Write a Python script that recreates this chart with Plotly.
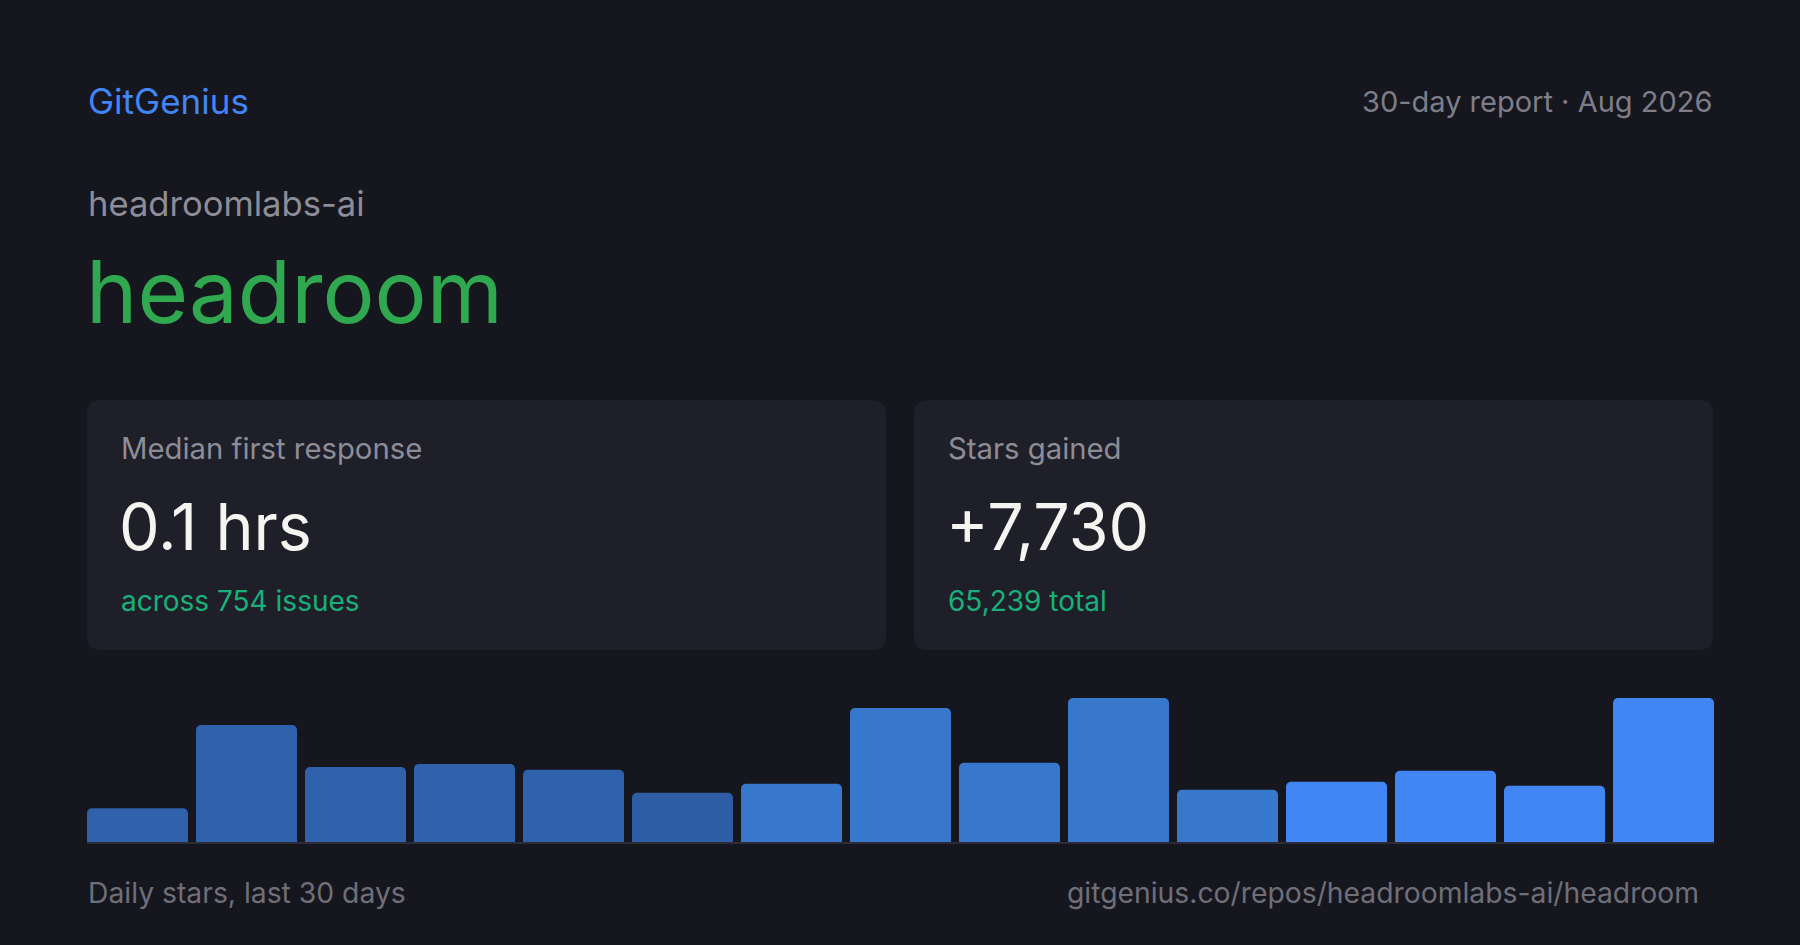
import plotly.graph_objects as go

# ---------------- data ----------------
bins = [f"D{i}" for i in range(1, 16)]
daily_stars = [213, 739, 473, 493, 456, 311, 367, 846, 500, 909, 330, 380, 449, 355, 909]
bar_colors = ["#2f62ab"] * 5 + ["#2e5ca5"] + ["#3778cc"] * 5 + ["#4285f4"] * 4

brand = "GitGenius"
report = "30-day report · Aug 2026"
owner = "headroomlabs-ai"
repo = "headroom"
card_labels = ["Median first response", "Stars gained"]
card_values = ["0.1 hrs", "+7,730"]
card_subs = ["across 754 issues", "65,239 total"]
footer_left = "Daily stars, last 30 days"
footer_right = "gitgenius.co/repos/headroomlabs-ai/headroom"

# ---------------- layout helpers ----------------
W, H = 1800, 945
BG = "#16161e"
CARD = "#1f1f29"
FONT = "Inter"


def px(x):
    return x / W


def py(y):
    return 1 - y / H


def rounded_rect(x0, y0, x1, y1, r):
    X = lambda v: px(v)
    Y = lambda v: py(v)
    return (
        f"M {X(x0 + r)} {Y(y0)} L {X(x1 - r)} {Y(y0)} "
        f"Q {X(x1)} {Y(y0)} {X(x1)} {Y(y0 + r)} "
        f"L {X(x1)} {Y(y1 - r)} Q {X(x1)} {Y(y1)} {X(x1 - r)} {Y(y1)} "
        f"L {X(x0 + r)} {Y(y1)} Q {X(x0)} {Y(y1)} {X(x0)} {Y(y1 - r)} "
        f"L {X(x0)} {Y(y0 + r)} Q {X(x0)} {Y(y0)} {X(x0 + r)} {Y(y0)} Z"
    )


fig = go.Figure()
fig.add_trace(
    go.Bar(
        x=bins,
        y=daily_stars,
        marker=dict(color=bar_colors, line=dict(width=0)),
        hoverinfo="skip",
    )
)

shapes = []
cards_x = [(87, 886), (914, 1713)]
for (x0, x1) in cards_x:
    shapes.append(
        dict(
            type="path",
            xref="paper",
            yref="paper",
            path=rounded_rect(x0, 400, x1, 650, 14),
            fillcolor=CARD,
            line=dict(width=0),
            layer="below",
        )
    )
# baseline under the bars
shapes.append(
    dict(
        type="line",
        xref="paper",
        yref="paper",
        x0=px(87),
        x1=px(1714),
        y0=py(843),
        y1=py(843),
        line=dict(color="#2c2c38", width=2),
    )
)

annotations = []


def text(x, y, s, size, color, anchor="left"):
    annotations.append(
        dict(
            x=px(x),
            y=py(y),
            xref="paper",
            yref="paper",
            text=s,
            showarrow=False,
            xanchor=anchor,
            yanchor="middle",
            font=dict(family=FONT, size=size, color=color),
        )
    )


text(86, 101, brand, 35, "#4285f4")
text(1714, 101, report, 29, "#7e7e89", "right")
text(86, 203, owner, 34.6, "#8d8d97")
text(84, 292, repo, 87, "#2fa84f")

for i, (x0, x1) in enumerate(cards_x):
    text(x0 + 32, 449, card_labels[i], 29.3, "#8d8d97")
    text(x0 + 30, 527, card_values[i], 64.5, "#f4f4f0")
    text(x0 + 32, 601, card_subs[i], 28, "#19b07a")

text(86, 893, footer_left, 28.3, "#6f6f79")
text(1701, 893, footer_right, 28.3, "#6f6f79", "right")

fig.update_layout(
    width=W,
    height=H,
    margin=dict(l=0, r=0, t=0, b=0),
    paper_bgcolor=BG,
    plot_bgcolor=BG,
    showlegend=False,
    bargap=8 / 109,
    barcornerradius=5,
    shapes=shapes,
    annotations=annotations,
    xaxis=dict(
        domain=[px(83), px(1718)],
        showgrid=False,
        zeroline=False,
        showticklabels=False,
        ticks="",
        showline=False,
        fixedrange=True,
    ),
    yaxis=dict(
        domain=[py(842), py(698)],
        range=[0, max(daily_stars)],
        showgrid=False,
        zeroline=False,
        showticklabels=False,
        ticks="",
        showline=False,
        fixedrange=True,
    ),
)

fig.write_html(
    "out.html",
    config={"displayModeBar": False},
    post_script="document.body.style.margin='0';document.body.style.background='#16161e';",
)
